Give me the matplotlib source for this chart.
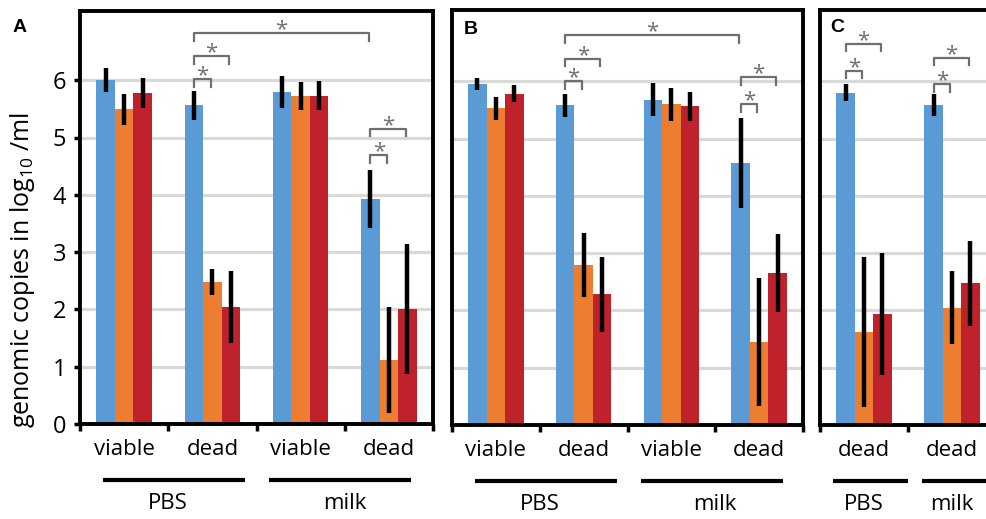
import matplotlib
matplotlib.use("Agg")
import matplotlib.pyplot as plt
import matplotlib.transforms as mtransforms
import numpy as np

plt.rcParams["font.family"] = ["Open Sans", "DejaVu Sans"]
plt.rcParams["mathtext.default"] = "regular"

series_colors = ["#5B9BD5", "#ED7D31", "#C0222B"]

# panel A
a_cats = ["viable", "dead", "viable", "dead"]
a_groups = ["PBS", "milk"]
a_blue = [6.00, 5.56, 5.80, 3.93]
a_orange = [5.49, 2.48, 5.72, 1.12]
a_red = [5.77, 2.04, 5.73, 2.01]
a_blue_err = [0.21, 0.25, 0.28, 0.51]
a_orange_err = [0.27, 0.23, 0.24, 0.92]
a_red_err = [0.26, 0.63, 0.25, 1.13]
# (category from, bar from, category to, bar to, height)
a_sig = [(1, 0, 1, 1, 6.02), (1, 0, 1, 2, 6.42), (1, 0, 3, 0, 6.82),
         (3, 0, 3, 1, 4.69), (3, 0, 3, 2, 5.15)]

# panel B
b_cats = ["viable", "dead", "viable", "dead"]
b_groups = ["PBS", "milk"]
b_blue = [5.95, 5.58, 5.68, 4.57]
b_orange = [5.53, 2.79, 5.60, 1.45]
b_red = [5.78, 2.28, 5.56, 2.65]
b_blue_err = [0.10, 0.20, 0.28, 0.79]
b_orange_err = [0.20, 0.56, 0.29, 1.11]
b_red_err = [0.15, 0.65, 0.26, 0.68]
b_sig = [(1, 0, 1, 1, 6.00), (1, 0, 1, 2, 6.39), (1, 0, 3, 0, 6.80),
         (3, 0, 3, 1, 5.60), (3, 0, 3, 2, 6.07)]

# panel C
c_cats = ["dead", "dead"]
c_groups = ["PBS", "milk"]
c_blue = [5.80, 5.59]
c_orange = [1.62, 2.05]
c_red = [1.94, 2.47]
c_blue_err = [0.15, 0.19]
c_orange_err = [1.31, 0.64]
c_red_err = [1.06, 0.74]
c_sig = [(0, 0, 0, 1, 6.18), (0, 0, 0, 2, 6.65),
         (1, 0, 1, 1, 5.95), (1, 0, 1, 2, 6.41)]

W = 0.21


def draw_panel(ax, cats, groups, vals, errs, sig, group_lines, ytop, show_y):
    n = len(cats)
    x = np.arange(n) + 0.5
    for k in range(3):
        xs = x + (k - 1) * W
        ax.bar(xs, vals[k], W, color=series_colors[k], zorder=2)
        ax.errorbar(xs, vals[k], yerr=errs[k], fmt="none", ecolor="black",
                    elinewidth=3.2, capsize=0, zorder=3)
    ax.set_xlim(0, n)
    ax.set_ylim(0, ytop)
    ax.set_yticks(range(7))
    ax.yaxis.grid(True, color="#d9d9d9", lw=2.3)
    ax.set_axisbelow(True)
    for s in ax.spines.values():
        s.set_linewidth(2.8)
    ax.set_xticks(x)
    ax.set_xticklabels(cats, fontsize=16)
    ax.set_xticks(np.arange(n + 1), minor=True)
    ax.tick_params(axis="x", which="major", length=0, pad=11)
    ax.tick_params(axis="x", which="minor", length=5, width=2.5)
    if show_y:
        ax.tick_params(axis="y", length=4, width=2.5, pad=6, labelsize=17)
    else:
        ax.tick_params(axis="y", length=0, labelleft=False)

    # significance brackets
    for c0, b0, c1, b1, yy in sig:
        x0 = x[c0] + (b0 - 1) * W
        x1 = x[c1] + (b1 - 1) * W - 0.02
        ax.plot([x0, x0, x1, x1], [yy - 0.13, yy, yy, yy - 0.13],
                color="#6f6f6f", lw=1.6, zorder=4, clip_on=False)
        ax.text((x0 + x1) / 2, yy + 0.06, "*", ha="center", va="center",
                fontsize=16, color="#6f6f6f")

    # group lines and labels under the categories
    tr = mtransforms.blended_transform_factory(ax.transData, ax.transAxes)
    per = n // len(groups)
    for g, (name, (l0, l1)) in enumerate(zip(groups, group_lines)):
        ax.plot([l0, l1], [-0.135, -0.135], color="black", lw=3,
                transform=tr, clip_on=False, solid_capstyle="butt")
        ax.text(g * per + per / 2, -0.192, name, transform=tr, ha="center",
                va="center", fontsize=16)


fig = plt.figure(figsize=(9.86, 5.19), dpi=100)

ax_a = fig.add_axes([80 / 986, 95 / 519, 353 / 986, 413 / 519])
draw_panel(ax_a, a_cats, a_groups, [a_blue, a_orange, a_red],
           [a_blue_err, a_orange_err, a_red_err], a_sig,
           [(0.26, 1.87), (2.14, 3.75)], 413 / 57.3, True)
ax_a.set_ylabel("genomic copies in log$_{10}$ /ml", fontsize=18)
ax_a.yaxis.set_label_coords(-0.122, 0.372)

ax_b = fig.add_axes([452 / 986, 94 / 519, 351 / 986, 415 / 519])
draw_panel(ax_b, b_cats, b_groups, [b_blue, b_orange, b_red],
           [b_blue_err, b_orange_err, b_red_err], b_sig,
           [(0.26, 1.88), (2.15, 3.77)], 415 / 57.3, False)

ax_c = fig.add_axes([820 / 986, 94 / 519, 176 / 986, 415 / 519])
draw_panel(ax_c, c_cats, c_groups, [c_blue, c_orange, c_red],
           [c_blue_err, c_orange_err, c_red_err], c_sig,
           [(0.15, 1.0), (1.16, 1.95)], 415 / 57.3, False)

for letter, px, py in [("A", 20, 28), ("B", 471, 29), ("C", 837, 27)]:
    fig.text(px / 986, 1 - py / 519, letter, ha="center", va="center",
             fontsize=14, fontweight="bold", family="Liberation Sans")

fig.savefig("out.png", dpi=100)
